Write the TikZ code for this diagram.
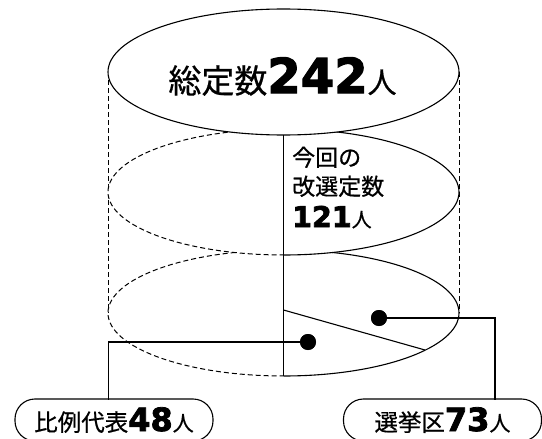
\documentclass[tikz,border=0pt]{standalone}
\usepackage{fontspec}
\newfontfamily\cjk{Noto Sans CJK JP}[FakeBold=0.6]
\newfontfamily\heavy{DejaVu Sans}[UprightFont={* Bold},FakeBold=2.5]
\begin{document}
\begin{tikzpicture}[x=1pt,y=1pt,
  edge/.style={line width=1.1pt},
  hid/.style={line width=1pt,dash pattern=on 5pt off 3pt},
  conn/.style={line width=1.1pt},
  dot/.style={circle,fill=black,inner sep=0pt,minimum size=16pt},
  lbl/.style={draw,line width=1.1pt,rounded corners=20pt,minimum width=198pt,minimum height=42pt,inner sep=0pt,text height=22pt,text depth=0pt},
  txt/.style={inner sep=0pt}]
\useasboundingbox (0,0) rectangle (542,-439);
\clip (0,0) rectangle (542,-439);
% bottom ellipse
\draw[hid] (283.5,-250) arc[start angle=90,end angle=270,x radius=175.5,y radius=63];
\draw[edge] (283.5,-250) arc[start angle=90,end angle=-90,x radius=175.5,y radius=63];
% cylinder sides
\draw[hid] (108,-72) -- (108,-313);
\draw[hid] (459,-72) -- (459,-313);
% middle ellipse
\fill[white] (283.5,-192) ellipse[x radius=175.5,y radius=63];
\draw[hid] (283.5,-129) arc[start angle=90,end angle=270,x radius=175.5,y radius=63];
\draw[edge] (283.5,-129) arc[start angle=90,end angle=-90,x radius=175.5,y radius=63];
% top ellipse
\draw[edge,fill=white] (283.5,-72) ellipse[x radius=175.5,y radius=63];
% inner lines
\draw[edge] (283.5,-135) -- (283.5,-376);
\draw[edge] (283.5,-310) -- (425,-350);
% labels
\node[lbl] (L1) at (114,-420) {\cjk\fontsize{23.5}{26}\selectfont 比例代表\heavy\fontsize{32}{34}\selectfont 48\cjk\fontsize{21}{24}\selectfont 人};
\node[lbl] (L2) at (442.5,-420) {\cjk\fontsize{23.5}{26}\selectfont 選挙区\heavy\fontsize{32}{34}\selectfont 73\cjk\fontsize{21}{24}\selectfont 人};
\coordinate (k1) at (108.5,-400);
\coordinate (k2) at (495,-400);
% dots and connectors
\node[dot] (d1) at (308,-342) {};
\node[dot] (d2) at (379,-318) {};
\draw[conn] (d1.center) -| (k1);
\draw[conn] (d2.center) -| (k2);
\node[dot] at (d1) {};
\node[dot] at (d2) {};
% texts
\node[txt,anchor=base] (t) at (282.5,-93) {\cjk\fontsize{33}{36}\selectfont 総定数\heavy\fontsize{48}{50}\selectfont 242\cjk\fontsize{29}{32}\selectfont 人};
\node[txt,anchor=base west] (m1) at (292,-166) {\cjk\fontsize{23}{26}\selectfont 今回の};
\node[txt,anchor=base west] (m2) at (292,-195) {\cjk\fontsize{23}{26}\selectfont 改選定数};
\node[txt,anchor=base west] (m3) at (292,-227) {\heavy\fontsize{28.5}{30}\selectfont 121\cjk\fontsize{20}{22}\selectfont 人};
\end{tikzpicture}
\end{document}
